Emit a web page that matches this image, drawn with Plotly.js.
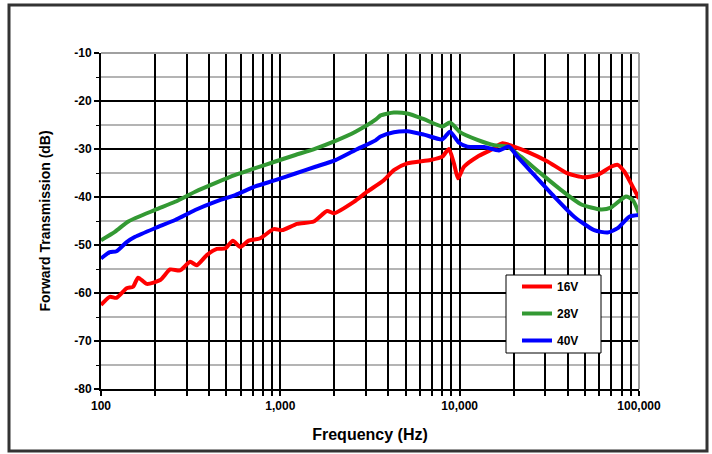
<!DOCTYPE html>
<html>
<head>
<meta charset="utf-8">
<script src="https://cdn.plot.ly/plotly-3.0.1.min.js"></script>
<style>html,body{margin:0;padding:0;background:#fff;}#chart{width:712px;height:454px;}</style>
</head>
<body>
<div id="chart"></div>
<script>
// ---- data ----
const seriesNames = ["16V", "28V", "40V"];
const seriesColors = ["#ff0000", "#339933", "#0000ff"];

const freq16 = [100,112,122,139,151,161,180,214,243,276,314,342,389,443,493,544,598,666,773,918,1022,1240,1535,1824,1986,2570,3050,3776,4296,5105,6887,8000,8710,9290,9790,10570,12560,14900,17330,19700,23900,30900,40000,49500,58800,69800,76100,82800,94200,100000];
const db16 = [-62.5,-60.8,-61.0,-59.0,-58.7,-56.8,-58.1,-57.3,-55.1,-55.3,-53.5,-54.2,-52.1,-50.8,-50.7,-49.1,-50.4,-49.1,-48.6,-46.7,-46.9,-45.6,-45.1,-42.9,-43.4,-41.0,-38.9,-36.5,-34.4,-33.0,-32.3,-31.6,-30.0,-33.0,-36.1,-33.7,-31.6,-30.2,-28.8,-29.4,-30.6,-32.6,-35.1,-35.9,-35.4,-33.7,-33.3,-34.7,-38.5,-40.3];

const freq28 = [100,120,142,200,259,335,433,561,725,938,1213,1570,2030,2625,3396,3622,4296,5105,6324,8000,8830,10140,12560,15560,18460,21920,28340,36650,47400,61350,69800,84500,92200,100000];
const db28 = [-49.0,-47.2,-45.1,-42.7,-41.0,-38.9,-37.1,-35.4,-34.0,-32.6,-31.25,-29.9,-28.3,-26.4,-23.9,-23.0,-22.4,-22.6,-23.8,-25.3,-24.5,-26.6,-28.1,-29.2,-29.5,-31.6,-35.1,-38.5,-41.5,-42.6,-42.2,-39.9,-40.6,-43.4];

const freq40 = [100,112,122,139,155,200,259,335,433,561,725,938,1213,1570,2030,2625,3396,3622,4296,5105,6324,8000,8830,9910,11050,13680,16580,18850,20990,26020,33650,43500,56240,66860,76100,88300,100000];
const db40 = [-52.8,-51.5,-51.3,-49.4,-48.3,-46.5,-44.8,-42.7,-41.0,-39.6,-37.8,-36.5,-35.1,-33.7,-32.3,-30.2,-28.2,-27.4,-26.5,-26.3,-27.0,-28.0,-26.4,-28.7,-29.5,-29.6,-30.3,-29.5,-31.6,-35.4,-39.9,-44.1,-46.9,-47.4,-46.5,-44.1,-43.75];

const xTickVals = [100,200,300,400,500,600,700,800,900,1000,2000,3000,4000,5000,6000,7000,8000,9000,10000,20000,30000,40000,50000,60000,70000,80000,90000,100000];
const xTickText = ["100","","","","","","","","","1,000","","","","","","","","","10,000","","","","","","","","","100,000"];
const yTickVals = [-80,-70,-60,-50,-40,-30,-20,-10];
const yTickText = ["-80","-70","-60","-50","-40","-30","-20","-10"];

const xs = [freq16, freq28, freq40];
const ys = [db16, db28, db40];

const traces = seriesNames.map((n, i) => ({
  x: xs[i], y: ys[i], type: "scatter", mode: "lines",
  name: n,
  legendgroup: "g" + i,
  line: {color: seriesColors[i], width: 4, shape: "spline", smoothing: 0.6},
  hoverinfo: "skip"
}));

const FAM = "Liberation Sans, Arial, sans-serif";
const bold = {family: FAM, size: 12, color: "#000", weight: "bold"};

// plot area: x 101..639, y 53..389 (538 x 336)
const L = 101, R = 639, T = 53, B = 389, W = 712, H = 454;
const px = v => (v - L) / (R - L);
const py = v => (B - v) / (B - T);

const layout = {
  width: W, height: H,
  margin: {l: L, r: W - R, t: T, b: H - B, pad: 0},
  paper_bgcolor: "#ffffff", plot_bgcolor: "#ffffff",
  showlegend: true,
  legend: {
    x: px(517), y: py(272), xanchor: "left", yanchor: "top",
    bgcolor: "rgba(0,0,0,0)", borderwidth: 0,
    font: {family: FAM, size: 12, color: "#000", weight: "bold"},
    traceorder: "grouped", tracegroupgap: 8
  },
  xaxis: {
    type: "log", range: [2, 5], autorange: false,
    tickmode: "array", tickvals: xTickVals, ticktext: xTickText,
    showgrid: true, gridcolor: "#000000", gridwidth: 2,
    ticks: "outside", ticklen: 5, tickwidth: 2, tickcolor: "#000",
    showline: true, linecolor: "#000", linewidth: 2,
    zeroline: false, automargin: false,
    tickfont: bold,
    title: {text: "Frequency (Hz)", font: {family: FAM, size: 16, color: "#000", weight: "bold"}, standoff: 16}
  },
  yaxis: {
    range: [-80, -10], autorange: false,
    tickmode: "array", tickvals: yTickVals, ticktext: yTickText,
    showgrid: true, gridcolor: "#000000", gridwidth: 2,
    ticks: "outside", ticklen: 5, tickwidth: 2, tickcolor: "#000",
    showline: true, linecolor: "#000", linewidth: 2,
    zeroline: false, automargin: false,
    tickfont: bold,
    minor: {dtick: 5, showgrid: true, gridcolor: "#b4b4b4", gridwidth: 2, ticks: "outside", ticklen: 3, tickwidth: 1, tickcolor: "#000"},
    title: {text: "Forward Transmission (dB)", font: {family: FAM, size: 14, color: "#000", weight: "bold"}, standoff: 20}
  },
  shapes: [
    {type: "line", xref: "paper", yref: "paper", x0: 0, x1: 1, y0: 1, y1: 1, line: {color: "#a0a0a0", width: 2}, layer: "above"},
    {type: "line", xref: "paper", yref: "paper", x0: 1, x1: 1, y0: 0, y1: 1, line: {color: "#a0a0a0", width: 2}, layer: "above"},
    // legend box
    {type: "rect", xref: "paper", yref: "paper", x0: px(506), x1: px(601), y0: py(353), y1: py(275), fillcolor: "#ffffff", line: {color: "#000000", width: 1}, layer: "above"},
    // outer frame
    {type: "rect", xref: "paper", yref: "paper", x0: px(9), x1: px(707), y0: py(451), y1: py(5), line: {color: "#333333", width: 3}, layer: "above"}
  ]
};

Plotly.newPlot("chart", traces, layout, {staticPlot: true, displayModeBar: false});
</script>
</body>
</html>
